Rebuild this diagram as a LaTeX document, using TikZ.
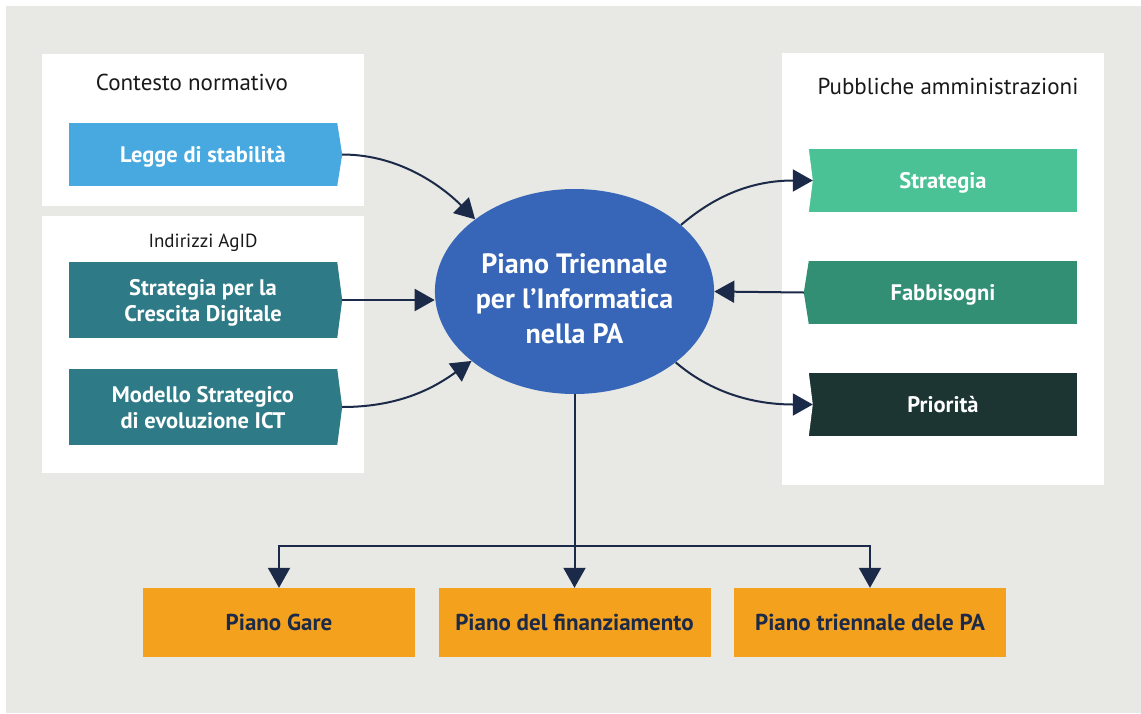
\documentclass[tikz,border=0pt]{standalone}
\usepackage{fontspec}
\setmainfont{PT Sans}
\usetikzlibrary{arrows.meta,shapes.geometric}

\definecolor{bggray}{HTML}{E8E8E4}
\definecolor{navy}{HTML}{1B2A48}
\definecolor{sky}{HTML}{47A9E0}
\definecolor{petrol}{HTML}{2E7B87}
\definecolor{mint}{HTML}{4AC295}
\definecolor{jade}{HTML}{338F74}
\definecolor{pine}{HTML}{1C3533}
\definecolor{royal}{HTML}{3766B8}
\definecolor{amber}{HTML}{F4A11E}

\begin{document}
\begin{tikzpicture}[x=1pt,y=-1pt,
  title/.style={text=black!90,font=\fontsize{23}{27}\selectfont,inner sep=0pt},
  box/.style={minimum width=268pt,inner sep=0pt,text=white,align=center,text depth=0pt,
    font=\fontsize{22.5}{26}\selectfont\bfseries},
  plan/.style={fill=amber,minimum width=272pt,minimum height=69pt,inner sep=0pt,
    text=navy,font=\fontsize{23}{27}\selectfont\bfseries},
  conn/.style={draw=navy,line width=2pt,-{Triangle[length=20pt,width=22pt]}}]
\useasboundingbox (0,0) rectangle (1141,713);
\fill[bggray] (6,6) rectangle (1141,713);
% white panels
\fill[white] (42,54) rectangle (364,206);
\fill[white] (42,216) rectangle (364,473);
\fill[white] (782,53) rectangle (1104,485);
\node[title] (normativo) at (192,82) {Contesto normativo};
\node[title,font=\fontsize{19}{23}\selectfont] (agid) at (203,243) {Indirizzi AgID};
\node[title] (pa) at (948,86) {Pubbliche amministrazioni};

% center
\node[ellipse,fill=royal,minimum width=273pt,minimum height=205pt,inner sep=0pt,text=white,
  align=center,text height=103pt,text depth=0pt,font=\fontsize{28}{35}\selectfont\bfseries]
  (piano) at (574.5,291.5) {Piano Triennale\\per l’Informatica\\nella PA};

% inputs on the left, pointing right
\node[box,fill=sky,minimum height=63pt] (legge) at (203,154.5) {Legge di stabilità};
\node[box,fill=petrol,minimum height=76pt] (crescita) at (203,300) {Strategia per la\\Crescita Digitale};
\node[box,fill=petrol,minimum height=76pt] (modello) at (203,407) {Modello Strategico\\di evoluzione ICT};
\fill[sky] (legge.north east) -- ([xshift=5pt]legge.east) -- (legge.south east) -- cycle;
\fill[petrol] (crescita.north east) -- ([xshift=5pt]crescita.east) -- (crescita.south east) -- cycle;
\fill[petrol] (modello.north east) -- ([xshift=5pt]modello.east) -- (modello.south east) -- cycle;

% PA boxes on the right
\node[box,fill=mint,minimum height=63pt] (strat) at (943,180.5) {Strategia};
\node[box,fill=jade,minimum height=63pt] (fabb) at (943,292.5) {Fabbisogni};
\node[box,fill=pine,minimum height=63pt] (prio) at (943,404.5) {Priorità};
\fill[white] (strat.north west) -- ([xshift=4pt]strat.west) -- (strat.south west) -- cycle;
\fill[jade] (fabb.north west) -- ([xshift=-5pt]fabb.west) -- (fabb.south west) -- cycle;
\fill[white] (prio.north west) -- ([xshift=4pt]prio.west) -- (prio.south west) -- cycle;

% outputs
\node[plan] (gare) at (279,622.5) {Piano Gare};
\node[plan] (fin) at (574.5,622.5) {Piano del finanziamento};
\node[plan] (trienn) at (870,622.5) {Piano triennale dele PA};

\draw[conn] ([xshift=5pt]legge.east) .. controls +(60,0) and +(-30,-30) .. (piano.144);
\draw[conn] ([xshift=5pt]crescita.east) -- (crescita.east -| piano.west);
\draw[conn] ([xshift=5pt]modello.east) .. controls +(60,0) and +(-35,25) .. (piano.214);
\draw[conn] (piano.32) .. controls +(35,-30) and +(-60,0) .. ([xshift=4pt]strat.west);
\draw[conn] ([xshift=-5pt]fabb.west) -- (piano.east);
\draw[conn] (piano.325) .. controls +(35,30) and +(-60,0) .. ([xshift=4pt]prio.west);
\coordinate (split) at (574.5,546);
\draw[conn] (piano.south) -- (fin.north);
\draw[conn] (split) -| (gare.north);
\draw[conn] (split) -| (trienn.north);
\end{tikzpicture}
\end{document}
